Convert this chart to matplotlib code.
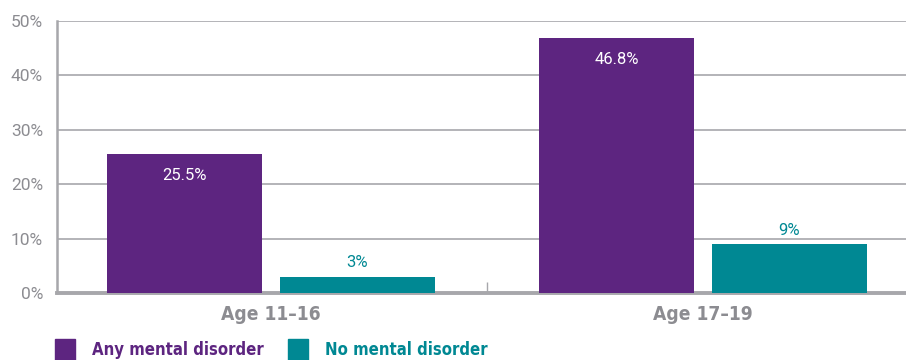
import matplotlib
matplotlib.use("Agg")
import matplotlib.pyplot as plt
from matplotlib.patches import Rectangle
from matplotlib import font_manager
import numpy as np

categories = ["Age 11\u201316", "Age 17\u201319"]
series_names = ["Any mental disorder", "No mental disorder"]
any_disorder = [25.5, 46.8]
no_disorder = [3, 9]
any_labels = ["25.5%", "46.8%"]
no_labels = ["3%", "9%"]
yticks = [0, 10, 20, 30, 40, 50]
ytick_labels = ["0%", "10%", "20%", "30%", "40%", "50%"]

PURPLE = "#5d2580"
TEAL = "#008893"
GREY = "#8c8c91"
GRID = "#a7a7ab"

cond = font_manager.FontProperties(family="DejaVu Sans", stretch="condensed", weight="bold")

fig = plt.figure(figsize=(9.06, 3.6), dpi=100)
ax = fig.add_axes([57/906, 1 - 293/360, 1 - 57/906, (293 - 21)/360])

x = np.arange(len(categories))
w = 0.359
off = 0.2
b1 = ax.bar(x - off, any_disorder, w, color=PURPLE, zorder=3)
b2 = ax.bar(x + off, no_disorder, w, color=TEAL, zorder=3)

for rect, lab in zip(b1, any_labels):
    ax.annotate(lab, (rect.get_x() + rect.get_width()/2, rect.get_height()),
                xytext=(0, -15), textcoords="offset points", ha="center", va="center",
                color="white", fontsize=12, family="Roboto", zorder=4)
for rect, lab in zip(b2, no_labels):
    ax.annotate(lab, (rect.get_x() + rect.get_width()/2, rect.get_height()),
                xytext=(0, 10), textcoords="offset points", ha="center", va="center",
                color=TEAL, fontsize=12, family="Roboto", zorder=4)

ax.set_xlim(-0.495, 1.47)
ax.set_ylim(0, 50)
ax.set_yticks(yticks)
ax.set_yticklabels(ytick_labels, family="Roboto", fontsize=12.5, color=GREY)
ax.tick_params(axis="y", length=0, pad=10)
ax.yaxis.grid(True, color=GRID, linewidth=1.2, zorder=0)
ax.set_axisbelow(True)

ax.set_xticks(x)
ax.set_xticklabels(categories, color=GREY, fontproperties=cond, fontsize=13.8)
ax.tick_params(axis="x", length=0, pad=9)
ax.set_xticks([0.5], minor=True)
ax.tick_params(axis="x", which="minor", length=8, direction="in", color=GRID, width=1)

for s in ["top", "right"]:
    ax.spines[s].set_visible(False)
ax.spines["left"].set_color(GRID)
ax.spines["left"].set_linewidth(1.8)
ax.spines["bottom"].set_color(GRID)
ax.spines["bottom"].set_linewidth(2.8)

# legend
for (sx, tx, name, col) in [(55, 92, series_names[0], PURPLE), (288, 325, series_names[1], TEAL)]:
    fig.add_artist(Rectangle((sx/906, 0), 20/906, 21/360, transform=fig.transFigure,
                             color=col, clip_on=False))
    fig.text(tx/906, 1 - 350/360, name, color=col, fontproperties=cond, fontsize=12,
             va="center", ha="left")

fig.savefig("out.png", dpi=100)
